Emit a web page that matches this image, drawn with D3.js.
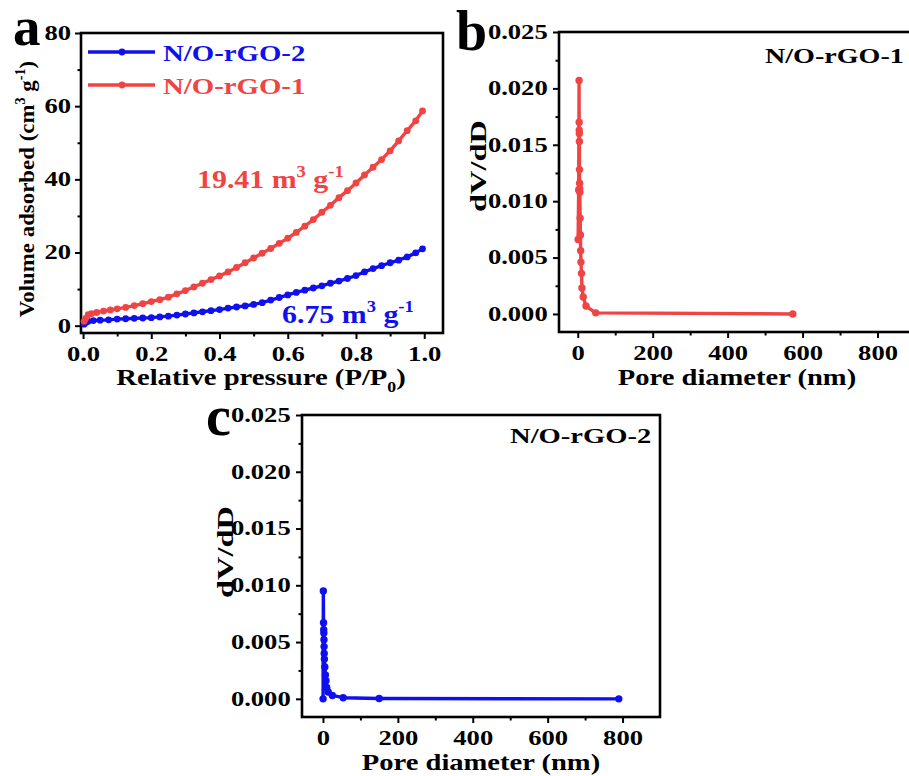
<!DOCTYPE html>
<html>
<head>
<meta charset="utf-8">
<script src="https://cdn.jsdelivr.net/npm/d3@7"></script>
<style>
  body { margin: 0; background: #fff; }
  svg { display: block; }
</style>
</head>
<body>
<div id="chart"></div>
<script>
// panel a : N2 isotherms
var pressure1 = [0.003, 0.008, 0.015, 0.025, 0.04, 0.06, 0.08, 0.10, 0.125, 0.15, 0.175, 0.20, 0.225, 0.25, 0.275, 0.30, 0.325, 0.35, 0.375, 0.40, 0.425, 0.45, 0.475, 0.50, 0.525, 0.55, 0.575, 0.60, 0.625, 0.65, 0.675, 0.70, 0.725, 0.75, 0.775, 0.80, 0.825, 0.85, 0.875, 0.90, 0.925, 0.95, 0.975, 0.995];
var volume1 = [1.2, 2.0, 3.0, 3.3, 3.6, 4.0, 4.3, 4.6, 5.0, 5.5, 6.0, 6.6, 7.1, 7.8, 8.7, 9.6, 10.6, 11.6, 12.6, 13.6, 14.7, 15.9, 17.2, 18.5, 19.8, 21.1, 22.5, 23.9, 25.5, 27.2, 29.0, 31.0, 32.9, 35.0, 36.9, 39.0, 41.2, 43.3, 45.4, 47.8, 50.5, 53.3, 56.0, 58.7];
var pressure2 = [0.003, 0.008, 0.015, 0.03, 0.05, 0.075, 0.10, 0.125, 0.15, 0.175, 0.20, 0.225, 0.25, 0.275, 0.30, 0.325, 0.35, 0.375, 0.40, 0.425, 0.45, 0.475, 0.50, 0.525, 0.55, 0.575, 0.60, 0.625, 0.65, 0.675, 0.70, 0.725, 0.75, 0.775, 0.80, 0.825, 0.85, 0.875, 0.90, 0.925, 0.95, 0.975, 0.995];
var volume2 = [0.4, 0.9, 1.2, 1.4, 1.5, 1.6, 1.8, 1.9, 2.0, 2.1, 2.2, 2.4, 2.6, 2.9, 3.2, 3.5, 3.8, 4.1, 4.4, 4.8, 5.1, 5.4, 5.8, 6.3, 7.0, 7.7, 8.4, 9.1, 9.7, 10.3, 10.9, 11.6, 12.2, 12.9, 13.7, 14.7, 15.6, 16.4, 17.2, 17.9, 18.8, 19.9, 21.0];

// panel b : pore size N/O-rGO-1
var diameter1 = [1.0, 2.5, 3.6, 3.8, 4.0, 4.2, 4.4, 4.7, 5.0, 5.3, 5.6, 6.4, 7.2, 7.8, 8.6, 10.0, 11.3, 14.6, 22, 48, 574];
var dvdd1 = [0.0066, 0.0110, 0.0207, 0.0170, 0.0163, 0.0160, 0.0153, 0.0128, 0.0116, 0.0111, 0.0108, 0.0085, 0.0070, 0.0056, 0.0046, 0.0036, 0.0023, 0.0015, 0.0007, 0.0001, 0.0000];

// panel c : pore size N/O-rGO-2
var diameter2 = [0.3, 1.0, 1.5, 2.0, 2.3, 2.7, 3.0, 3.3, 3.8, 5.0, 6.5, 8.0, 10, 14, 25, 54, 150, 790];
var dvdd2 = [0.0000, 0.0095, 0.0067, 0.0061, 0.0058, 0.0052, 0.0046, 0.0040, 0.0035, 0.0028, 0.0021, 0.0016, 0.0010, 0.0006, 0.0003, 0.0001, 0.00003, 0.0000];

// ticks
var pressureTicks = [0, 0.2, 0.4, 0.6, 0.8, 1.0];
var pressureMinor = [0.1, 0.3, 0.5, 0.7, 0.9];
var volumeTicks = [0, 20, 40, 60, 80];
var volumeMinor = [10, 30, 50, 70];
var diameterTicks = [0, 200, 400, 600, 800];
var diameterMinor = [100, 300, 500, 700];
var dvddTicks = [0, 0.005, 0.010, 0.015, 0.020, 0.025];
var dvddMinor = [0.0025, 0.0075, 0.0125, 0.0175, 0.0225];

var legendNames = ["N/O-rGO-2", "N/O-rGO-1"];

var red = "#f04444";
var blue = "#1010ee";
var fontFamily = "'Liberation Serif', 'Times New Roman', serif";

var svg = d3.select("#chart").append("svg")
  .attr("width", 909)
  .attr("height", 776);

// bold serif text, stretched sideways like the original, with sup/sub parts
function richText(parent, x, y, parts, o) {
  var g = parent.append("g")
    .attr("transform", "translate(" + x + "," + y + ") rotate(" + (o.rotate || 0) + ")");
  var t = g.append("text")
    .attr("transform", "scale(" + (o.sx || 1) + ",1)")
    .attr("text-anchor", o.anchor || "start")
    .attr("font-family", fontFamily)
    .attr("font-weight", "bold")
    .attr("font-size", o.size)
    .attr("fill", o.color || "#000");
  var shift = 0;
  parts.forEach(function (p) {
    var target = p.sup ? -o.size * 0.42 : p.sub ? o.size * 0.3 : 0;
    t.append("tspan")
      .attr("dy", target - shift)
      .attr("font-size", p.sup || p.sub ? o.size * 0.62 : o.size)
      .text(p.t);
    shift = target;
  });
  return t;
}

function panel(cfg) {
  var x = d3.scaleLinear().domain(cfg.xDomain).range([cfg.left, cfg.right]);
  var y = d3.scaleLinear().domain(cfg.yDomain).range([cfg.bottom, cfg.top]);
  var g = svg.append("g");

  var xa = g.append("g").attr("transform", "translate(0," + cfg.bottom + ")");
  xa.call(d3.axisBottom(x).tickValues(cfg.xMajor).tickSize(6).tickPadding(cfg.xPad).tickFormat(cfg.xFormat));
  xa.append("g").call(d3.axisBottom(x).tickValues(cfg.xMinor).tickSize(3.5).tickFormat(""));

  var ya = g.append("g").attr("transform", "translate(" + cfg.left + ",0)");
  ya.call(d3.axisLeft(y).tickValues(cfg.yMajor).tickSize(6).tickPadding(cfg.yPad).tickFormat(cfg.yFormat));
  ya.append("g").call(d3.axisLeft(y).tickValues(cfg.yMinor).tickSize(3.5).tickFormat(""));

  g.selectAll(".domain").remove();
  g.selectAll(".tick line").attr("stroke", "#000").attr("stroke-width", 2);
  g.selectAll(".tick text")
    .attr("font-family", fontFamily)
    .attr("font-weight", "bold")
    .attr("font-size", 20)
    .attr("fill", "#000")
    .attr("transform", "scale(1.33,1)");

  g.append("rect")
    .attr("x", cfg.left)
    .attr("y", cfg.top)
    .attr("width", cfg.right - cfg.left)
    .attr("height", cfg.bottom - cfg.top)
    .attr("fill", "none")
    .attr("stroke", "#000")
    .attr("stroke-width", 2.6);

  return { x: x, y: y, g: g };
}

function series(p, xs, ys, color, r) {
  var pts = xs.map(function (d, i) { return [d, ys[i]]; });
  var line = d3.line()
    .x(function (d) { return p.x(d[0]); })
    .y(function (d) { return p.y(d[1]); });
  p.g.append("path")
    .datum(pts)
    .attr("d", line)
    .attr("fill", "none")
    .attr("stroke", color)
    .attr("stroke-width", 3.4)
    .attr("stroke-linejoin", "round");
  p.g.selectAll(null)
    .data(pts)
    .enter()
    .append("circle")
    .attr("cx", function (d) { return p.x(d[0]); })
    .attr("cy", function (d) { return p.y(d[1]); })
    .attr("r", r)
    .attr("fill", color);
}

// ---------- panel a ----------
var pa = panel({
  left: 81, right: 443, top: 33, bottom: 333,
  xDomain: [-0.006, 1.055], yDomain: [-2, 80],
  xMajor: pressureTicks, xMinor: pressureMinor,
  yMajor: volumeTicks, yMinor: volumeMinor,
  xFormat: d3.format(".1f"), yFormat: d3.format("d"),
  xPad: 8, yPad: 1.5
});
series(pa, pressure2, volume2, blue, 3.4);
series(pa, pressure1, volume1, red, 3.4);

// legend
[blue, red].forEach(function (c, i) {
  var ly = 52 + i * 33;
  pa.g.append("line").attr("x1", 88).attr("x2", 155).attr("y1", ly).attr("y2", ly)
    .attr("stroke", c).attr("stroke-width", 3.4);
  pa.g.append("circle").attr("cx", 122).attr("cy", ly).attr("r", 3.4).attr("fill", c);
  richText(pa.g, 163, ly + 9, [{ t: legendNames[i] }], { size: 24, sx: 1.2, color: c });
});

richText(pa.g, 197, 188, [{ t: "19.41 m" }, { t: "3", sup: true }, { t: " g" }, { t: "-1", sup: true }],
  { size: 26, sx: 1.15, color: red });
richText(pa.g, 282, 323, [{ t: "6.75 m" }, { t: "3", sup: true }, { t: " g" }, { t: "-1", sup: true }],
  { size: 26, sx: 1.15, color: blue });

richText(svg, 261, 385, [{ t: "Relative pressure (P/P" }, { t: "0", sub: true }, { t: ")" }],
  { size: 23.5, sx: 1.22, anchor: "middle" });
richText(svg, 34, 189, [{ t: "Volume adsorbed (cm" }, { t: "3", sup: true }, { t: " g" }, { t: "-1", sup: true }, { t: ")" }],
  { size: 22, sx: 1.04, anchor: "middle", rotate: -90 });
richText(svg, 13, 45, [{ t: "a" }], { size: 55 });

// ---------- panel b ----------
var pb = panel({
  left: 559, right: 915, top: 32, bottom: 332,
  xDomain: [-50, 900], yDomain: [-0.0016, 0.025],
  xMajor: diameterTicks, xMinor: diameterMinor,
  yMajor: dvddTicks, yMinor: dvddMinor,
  xFormat: d3.format("d"), yFormat: d3.format(".3f"),
  xPad: 8, yPad: 2.5
});
series(pb, diameter1, dvdd1, red, 3.7);
richText(pb.g, 765, 63, [{ t: "N/O-rGO-1" }], { size: 20.5, sx: 1.37 });
richText(svg, 737, 385, [{ t: "Pore diameter (nm)" }], { size: 24, sx: 1.19, anchor: "middle" });
richText(svg, 486, 166, [{ t: "dV/dD" }], { size: 24, sx: 1.35, anchor: "middle", rotate: -90 });
richText(svg, 456, 50, [{ t: "b" }], { size: 56 });

// ---------- panel c ----------
var pc = panel({
  left: 302, right: 660, top: 415, bottom: 717,
  xDomain: [-56, 900], yDomain: [-0.0016, 0.025],
  xMajor: diameterTicks, xMinor: diameterMinor,
  yMajor: dvddTicks, yMinor: dvddMinor,
  xFormat: d3.format("d"), yFormat: d3.format(".3f"),
  xPad: 8, yPad: 2.5
});
series(pc, diameter2, dvdd2, blue, 3.7);
richText(pc.g, 510, 443, [{ t: "N/O-rGO-2" }], { size: 22, sx: 1.3 });
richText(svg, 481, 770, [{ t: "Pore diameter (nm)" }], { size: 24, sx: 1.19, anchor: "middle" });
richText(svg, 233, 552, [{ t: "dV/dD" }], { size: 24, sx: 1.35, anchor: "middle", rotate: -90 });
richText(svg, 206, 435, [{ t: "c" }], { size: 56 });
</script>
</body>
</html>
